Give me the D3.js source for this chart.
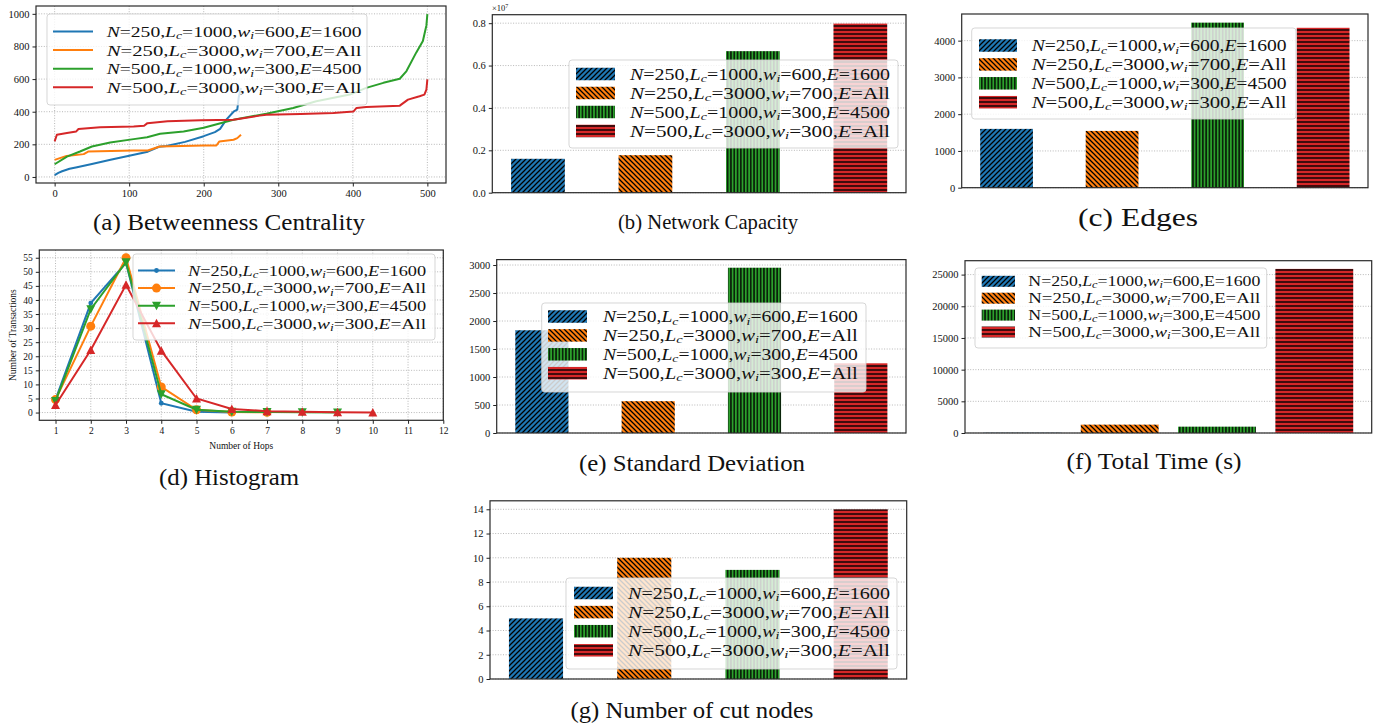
<!DOCTYPE html>
<html><head><meta charset="utf-8">
<script src="https://cdn.jsdelivr.net/npm/d3@7"></script>
<style>
body{margin:0;background:#fff}
svg{display:block}
text{font-family:"Liberation Serif","Times New Roman",serif;fill:#111}
</style>
</head><body>
<svg id="chart" width="1384" height="727"></svg>
<script>
// ---------------- DATA ----------------
const nVals  = [250, 250, 500, 500];
const lcVals = [1000, 3000, 1000, 3000];
const wiVals = [600, 700, 300, 300];
const eVals  = ["1600", "All", "4500", "All"];
const categories = nVals.map((n,i)=>`N=${n},Lc=${lcVals[i]},wi=${wiVals[i]},E=${eVals[i]}`);
const colors = ["#1f77b4", "#ff7f0e", "#2ca02c", "#d62728"];

// (b) network capacity (x 1e7)
const capacity = [0.16, 0.177, 0.668, 0.798];
// (c) edges
const edges = [1600, 1545, 4490, 4350];
// (e) standard deviation
const stdDev = [1835, 568, 2952, 1245];
// (f) total time (s)
const totalTime = [40, 1320, 1000, 25900];
// (g) number of cut nodes
const cutNodes = [5, 10, 9, 14];

// (d) histogram of hops
const hopsBlue   = [1,2,3,4,5,6];
const histBlue   = [4.6, 38.9, 53.2, 3.3, 0.3, 0.0];
const hopsOrange = [1,2,3,4,5,6,7];
const histOrange = [4.6, 30.7, 55.0, 9.1, 1.0, 0.2, 0.1];
const hopsGreen  = [1,2,3,4,5,6,7,8,9];
const histGreen  = [4.1, 36.7, 53.4, 6.5, 1.0, 0.3, 0.2, 0.1, 0.05];
const hopsRed    = [1,2,3,4,5,6,7,8,9,10];
const histRed    = [2.7, 22.2, 45.4, 22.0, 5.0, 1.3, 0.5, 0.3, 0.1, 0.05];

// (a) betweenness centrality (sorted node values)
const btwBlueX = [0, 5, 10, 20, 30, 50, 75, 100, 125, 140, 150, 175, 200, 215, 222, 230, 240, 245, 247, 250];
const btwBlueY = [12, 25, 35, 50, 60, 80, 105, 130, 155, 185, 190, 215, 250, 275, 295, 350, 400, 413, 490, 545];
const btwOrangeX = [0, 16, 39, 45, 106, 125, 141, 200, 217, 221, 240, 245, 250];
const btwOrangeY = [105, 129, 140, 156, 162, 162, 187, 193, 193, 218, 228, 238, 259];
const btwGreenX = [0, 16.5, 34, 50, 74.5, 106, 124, 141.5, 173, 200, 240, 284, 320, 351, 396, 418, 441, 463, 472, 485, 494, 498.7, 500];
const btwGreenY = [78, 125, 156, 187, 211, 232, 244, 265, 279, 302, 351, 388, 423, 464, 505, 546, 577, 602, 649, 762, 834, 929, 998];
const btwRedX = [0, 3, 16.5, 29, 32, 61, 106, 120, 124.5, 151.5, 196, 240, 275, 284, 330, 374, 401, 405, 418, 463, 474, 489.5, 496, 498.7, 500];
const btwRedY = [218, 259, 269, 279, 294, 304, 310, 314, 330, 341, 347, 351, 376, 382, 386, 392, 402, 423, 429, 437, 474, 495, 505, 536, 598];

// tick values
const ticksA_x = [0,100,200,300,400,500], ticksA_y = [0,200,400,600,800,1000];
const ticksB_y = [0,0.2,0.4,0.6,0.8];
const ticksC_y = [0,1000,2000,3000,4000];
const ticksD_x = [1,2,3,4,5,6,7,8,9,10,11,12], ticksD_y = [0,5,10,15,20,25,30,35,40,45,50,55];
const ticksE_y = [0,500,1000,1500,2000,2500,3000];
const ticksF_y = [0,5000,10000,15000,20000,25000];
const ticksG_y = [0,2,4,6,8,10,12,14];

// ---------------- DRAWING ----------------
const svg = d3.select("#chart");
const defs = svg.append("defs");
const hatchSpec = [
  {w:5, h:5, d:"M-1,1 L1,-1 M0,5 L5,0 M4,6 L6,4", sw:1.25},
  {w:5, h:5, d:"M-1,4 L1,6 M0,0 L5,5 M4,-1 L6,1", sw:1.25},
  {w:3.3, h:10, d:"M1.65,-1 L1.65,11", sw:1.3},
  {w:10, h:4, d:"M-1,2 L11,2", sw:1.4}
];
hatchSpec.forEach((s,i)=>{
  const p = defs.append("pattern").attr("id","hatch"+i).attr("patternUnits","userSpaceOnUse")
    .attr("width",s.w).attr("height",s.h);
  p.append("rect").attr("width",s.w).attr("height",s.h).attr("fill",colors[i]);
  p.append("path").attr("d",s.d).attr("stroke","#000").attr("stroke-width",s.sw).attr("fill","none");
});

function mathLabel(sel, i, size, uprightNE){
  const parts = [
    {t:"N", it:!uprightNE}, {t:"="+nVals[i]+","}, {t:"L", it:true}, {t:"c", it:true, sub:true},
    {t:"="+lcVals[i]+","}, {t:"w", it:true}, {t:"i", it:true, sub:true}, {t:"="+wiVals[i]+","},
    {t:"E", it:!uprightNE}, {t:"="+eVals[i]}
  ];
  let inSub = false;
  parts.forEach(p=>{
    const ts = sel.append("tspan").text(p.t).attr("font-style", p.it?"italic":"normal");
    if (p.sub){ ts.attr("font-size", size*0.7); if(!inSub){ ts.attr("dy", size*0.15); inSub=true; } }
    else if (inSub){ ts.attr("dy", -size*0.15); inSub=false; }
  });
}

function drawAxes(g, r, x, y, opts){
  if (opts.gridX) opts.xticks.forEach(v=>{
    g.append("line").attr("x1",x(v)).attr("x2",x(v)).attr("y1",r.y0).attr("y2",r.y1)
      .attr("stroke","#b0b0b0").attr("stroke-width",0.9).attr("stroke-dasharray","1,1.6");
  });
  opts.yticks.forEach(v=>{
    g.append("line").attr("x1",r.x0).attr("x2",r.x1).attr("y1",y(v)).attr("y2",y(v))
      .attr("stroke","#b0b0b0").attr("stroke-width",0.9).attr("stroke-dasharray","1,1.6");
  });
}
function drawFrame(g, r, x, y, opts){
  g.append("rect").attr("x",r.x0).attr("y",r.y0).attr("width",r.x1-r.x0).attr("height",r.y1-r.y0)
    .attr("fill","none").attr("stroke","#2a2a2a").attr("stroke-width",1.2);
  const ay = g.append("g").attr("transform",`translate(${r.x0},0)`)
    .call(d3.axisLeft(y).tickValues(opts.yticks).tickSize(3.5).tickPadding(3).tickFormat(opts.yfmt||d3.format("d")));
  ay.select(".domain").remove();
  ay.attr("font-family",null);
  ay.selectAll("text").attr("font-size",opts.fs).style("font-family","'Liberation Serif',serif").style("fill","#111");
  ay.selectAll("line").attr("stroke","#222");
  if (opts.xticks){
    const ax = g.append("g").attr("transform",`translate(0,${r.y1})`)
      .call(d3.axisBottom(x).tickValues(opts.xticks).tickSize(3.5).tickPadding(3).tickFormat(d3.format("d")));
    ax.select(".domain").remove();
    ax.attr("font-family",null);
    ax.selectAll("text").attr("font-size",opts.fs).style("font-family","'Liberation Serif',serif").style("fill","#111");
    ax.selectAll("line").attr("stroke","#222");
  }
}

function drawLegend(g, L, kind, uprightNE){
  g.append("rect").attr("x",L.box[0]).attr("y",L.box[1]).attr("width",L.box[2]-L.box[0]).attr("height",L.box[3]-L.box[1])
    .attr("rx",3).attr("fill","#fff").attr("fill-opacity",0.8).attr("stroke","#cccccc").attr("stroke-opacity",0.8);
  const fs = L.step/1.2;
  categories.forEach((c,i)=>{
    const cy = L.row0 + i*L.step;
    if (kind==="patch"){
      g.append("rect").attr("x",L.hx0).attr("y",cy-L.ph/2).attr("width",L.hx1-L.hx0).attr("height",L.ph)
        .attr("fill",`url(#hatch${i})`);
    } else {
      g.append("line").attr("x1",L.hx0).attr("x2",L.hx1).attr("y1",cy).attr("y2",cy)
        .attr("stroke",colors[i]).attr("stroke-width",2);
      if (kind==="marker") drawMarker(g, i, (L.hx0+L.hx1)/2, cy);
    }
    const t = g.append("text").attr("x",0).attr("y",0).attr("font-size",fs);
    mathLabel(t, i, fs, uprightNE);
    const w = t.node().getComputedTextLength();
    const sx = w>0 ? L.tw/w : 1;
    t.attr("transform",`translate(${L.tx},${cy+fs*0.36}) scale(${sx},1)`);
  });
}
function drawMarker(g, i, cx, cy){
  if (i===0) g.append("circle").attr("cx",cx).attr("cy",cy).attr("r",2.4).attr("fill",colors[0]);
  else if (i===1) g.append("circle").attr("cx",cx).attr("cy",cy).attr("r",4.5).attr("fill",colors[1]);
  else if (i===2) g.append("path").attr("d",`M${cx-4.5},${cy-4} L${cx+4.5},${cy-4} L${cx},${cy+4.5}Z`).attr("fill",colors[2]);
  else g.append("path").attr("d",`M${cx-4.5},${cy+4} L${cx+4.5},${cy+4} L${cx},${cy-4.5}Z`).attr("fill",colors[3]);
}
function title(txt, cx, by, width, fs){
  svg.append("text").attr("x",cx - width/2).attr("y",by).attr("font-size",fs)
    .attr("textLength",width).attr("lengthAdjust","spacingAndGlyphs").text(txt);
}

// ---- layouts ----
const layout = {
  a:{x0:36, x1:446, y0:6, y1:183},
  b:{x0:492.3, x1:906, y0:14.7, y1:192.7},
  c:{x0:961.7, x1:1368, y0:14, y1:187.7},
  d:{x0:39.3, x1:443.3, y0:250, y1:420.3},
  e:{x0:496.7, x1:906, y0:259.6, y1:433},
  f:{x0:965, x1:1371.7, y0:260.7, y1:433},
  g:{x0:490, x1:906.7, y0:500.8, y1:679}
};

// ---- Panel (a) ----
(function(){
  const r = layout.a, g = svg.append("g");
  const x = d3.scaleLinear().domain([-25,525]).range([r.x0,r.x1]);
  const y = d3.scaleLinear().domain([-37,1048]).range([r.y1,r.y0]);
  drawAxes(g,r,x,y,{gridX:true,xticks:ticksA_x,yticks:ticksA_y});
  const series = [[btwBlueX,btwBlueY],[btwOrangeX,btwOrangeY],[btwGreenX,btwGreenY],[btwRedX,btwRedY]];
  const line = d3.line().x(d=>x(d[0])).y(d=>y(d[1]));
  series.forEach((s,i)=>{
    g.append("path").datum(s[0].map((v,k)=>[v,s[1][k]])).attr("d",line)
      .attr("fill","none").attr("stroke",colors[i]).attr("stroke-width",2).attr("stroke-linejoin","round");
  });
  drawFrame(g,r,x,y,{xticks:ticksA_x,yticks:ticksA_y,fs:10.5});
  drawLegend(g,{box:[47,14,367,105],hx0:53,hx1:93,row0:31.5,step:18.6,tx:106.7,tw:255},"line",false);
})();
title("(a) Betweenness Centrality", 229, 230, 272, 23);

// ---- bar panel helper ----
function barPanel(r, values, yMax, yticks, yfmt, barW, xDom, L, uprightNE){
  const g = svg.append("g");
  const x = d3.scaleLinear().domain(xDom).range([r.x0,r.x1]);
  const y = d3.scaleLinear().domain([0,yMax]).range([r.y1,r.y0]);
  drawAxes(g,r,x,y,{gridX:false,yticks});
  g.selectAll(".bar").data(values).enter().append("rect")
    .attr("x",(d,i)=>x(i-barW/2)).attr("width",(d,i)=>x(i+barW/2)-x(i-barW/2))
    .attr("y",d=>y(d)).attr("height",d=>y(0)-y(d))
    .attr("fill",(d,i)=>`url(#hatch${i})`);
  drawFrame(g,r,x,y,{yticks,yfmt,fs:10.5});
  drawLegend(g,L,"patch",uprightNE);
  return g;
}

// ---- Panel (b) ----
barPanel(layout.b, capacity, 0.84, ticksB_y, d3.format(".1f"), 0.5, [-0.425,3.425],
  {box:[569,60,898,148],hx0:576,hx1:615,ph:12.5,row0:74,step:19,tx:630,tw:260}, false);
const exp = svg.append("text").attr("x",492).attr("y",11).attr("font-size",8.5);
exp.append("tspan").text("×10");
exp.append("tspan").text("7").attr("font-size",6).attr("dy",-3.5);
title("(b) Network Capacity", 708, 229, 180, 21);

// ---- Panel (c) ----
barPanel(layout.c, edges, 4725, ticksC_y, d3.format("d"), 0.5, [-0.425,3.425],
  {box:[971.7,28,1296,119],hx0:979,hx1:1017,ph:12.5,row0:45.5,step:18.9,tx:1031.7,tw:255}, false);
title("(c) Edges", 1138, 226, 120, 25);

// ---- Panel (d) ----
(function(){
  const r = layout.d, g = svg.append("g");
  const x = d3.scaleLinear().domain([0.54,12]).range([r.x0,r.x1]);
  const y = d3.scaleLinear().domain([-2.75,57.75]).range([r.y1,r.y0]);
  drawAxes(g,r,x,y,{gridX:true,xticks:ticksD_x,yticks:ticksD_y});
  const series = [[hopsBlue,histBlue],[hopsOrange,histOrange],[hopsGreen,histGreen],[hopsRed,histRed]];
  const line = d3.line().x(d=>x(d[0])).y(d=>y(d[1]));
  series.forEach((s,i)=>{
    const pts = s[0].map((v,k)=>[v,s[1][k]]);
    g.append("path").datum(pts).attr("d",line).attr("fill","none").attr("stroke",colors[i]).attr("stroke-width",2);
    pts.forEach(p=>drawMarker(g,i,x(p[0]),y(p[1])));
  });
  drawFrame(g,r,x,y,{xticks:ticksD_x,yticks:ticksD_y,fs:9.5});
  g.append("text").attr("x",x(6.27)).attr("y",449).attr("text-anchor","middle").attr("font-size",9.5).text("Number of Hops");
  g.append("text").attr("transform",`translate(16,${(r.y0+r.y1)/2}) rotate(-90)`).attr("text-anchor","middle")
    .attr("font-size",9.5).text("Number of Transactions");
  drawLegend(g,{box:[133,254,435,340],hx0:138,hx1:175,row0:270.5,step:17.6,tx:188,tw:238},"marker",false);
})();
title("(d) Histogram", 229, 485, 140, 23);

// ---- Panel (e) ----
barPanel(layout.e, stdDev, 3097, ticksE_y, d3.format("d"), 0.5, [-0.425,3.425],
  {box:[541.7,303,866,392],hx0:548,hx1:587,ph:12.5,row0:316.5,step:18.9,tx:603,tw:255}, false);
title("(e) Standard Deviation", 692, 471, 226, 23);

// ---- Panel (f) ----
barPanel(layout.f, totalTime, 27195, ticksF_y, d3.format("d"), 0.8, [-0.59,3.59],
  {box:[975,268,1266.7,348],hx0:981.7,hx1:1015,ph:11,row0:281.3,step:16.9,tx:1028.3,tw:232}, true);
title("(f) Total Time (s)", 1154, 469, 175, 23);

// ---- Panel (g) ----
barPanel(layout.g, cutNodes, 14.7, ticksG_y, d3.format("d"), 0.5, [-0.425,3.425],
  {box:[566,578,897,669],hx0:574,hx1:613,ph:12.5,row0:593,step:19.1,tx:628,tw:262}, false);
title("(g) Number of cut nodes", 692, 718, 243, 23);
</script>
</body></html>
